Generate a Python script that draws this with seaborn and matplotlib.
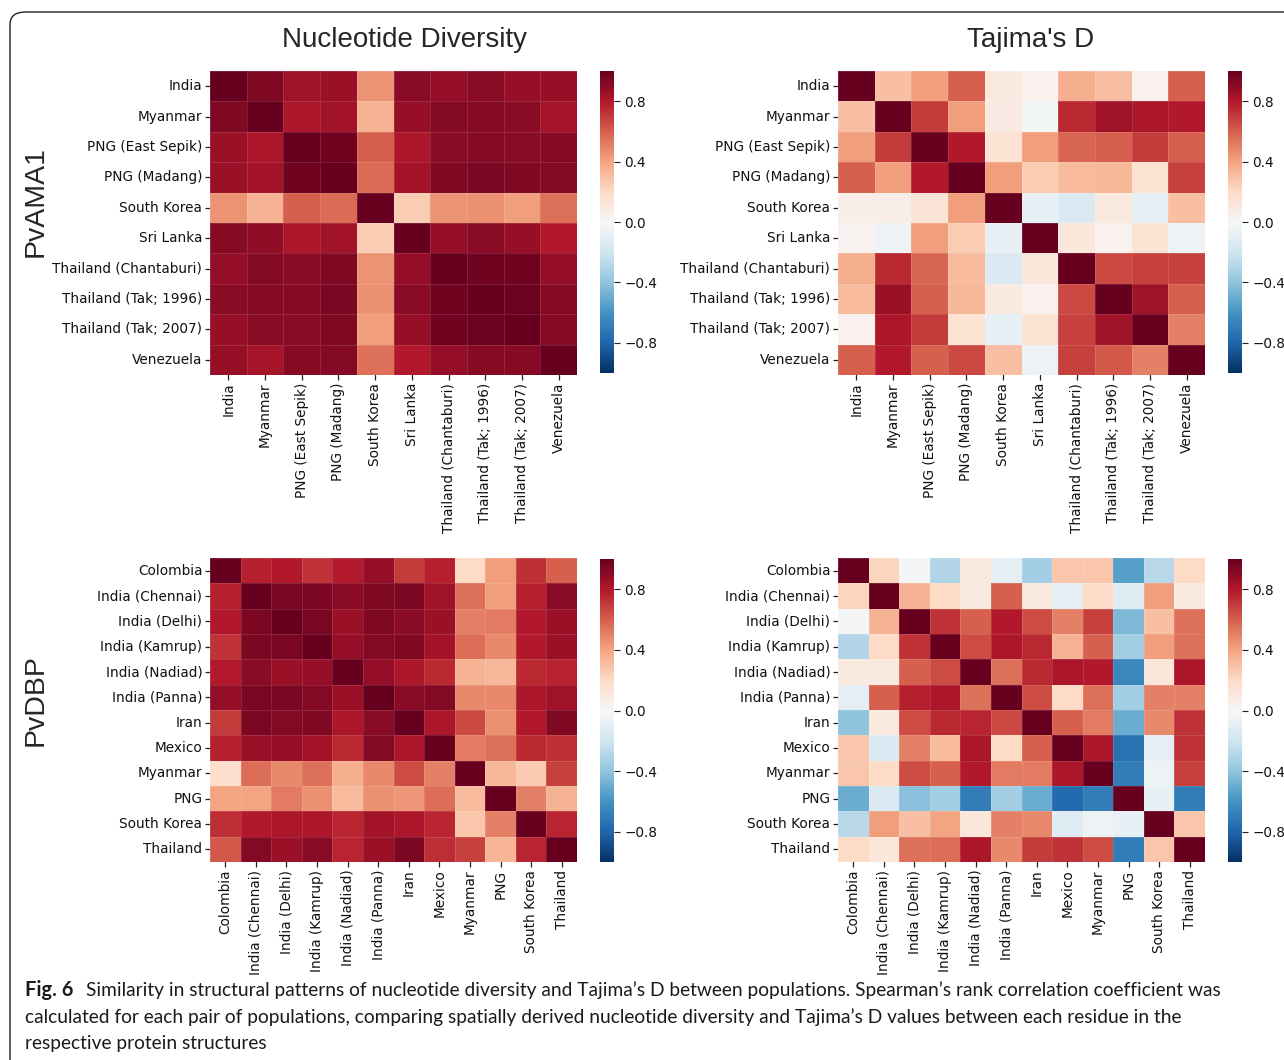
import numpy as np
import pandas as pd
import matplotlib.pyplot as plt
import seaborn as sns
from matplotlib.patches import FancyBboxPatch

# population labels
ama1_pops = ['India', 'Myanmar', 'PNG (East Sepik)', 'PNG (Madang)', 'South Korea',
             'Sri Lanka', 'Thailand (Chantaburi)', 'Thailand (Tak; 1996)',
             'Thailand (Tak; 2007)', 'Venezuela']
dbp_pops = ['Colombia', 'India (Chennai)', 'India (Delhi)', 'India (Kamrup)',
            'India (Nadiad)', 'India (Panna)', 'Iran', 'Mexico', 'Myanmar', 'PNG',
            'South Korea', 'Thailand']

# Spearman rho, PvAMA1, nucleotide diversity
ama1_nd = [
    [1.00, 0.93, 0.85, 0.86, 0.45, 0.90, 0.88, 0.90, 0.87, 0.87],
    [0.93, 1.00, 0.82, 0.84, 0.35, 0.87, 0.92, 0.91, 0.90, 0.83],
    [0.86, 0.82, 1.00, 0.97, 0.60, 0.82, 0.90, 0.91, 0.90, 0.91],
    [0.86, 0.84, 0.97, 1.00, 0.57, 0.84, 0.93, 0.94, 0.93, 0.92],
    [0.45, 0.35, 0.60, 0.57, 1.00, 0.25, 0.45, 0.46, 0.42, 0.55],
    [0.91, 0.89, 0.82, 0.84, 0.25, 1.00, 0.88, 0.90, 0.87, 0.80],
    [0.88, 0.92, 0.90, 0.93, 0.45, 0.88, 1.00, 0.97, 0.97, 0.88],
    [0.90, 0.91, 0.91, 0.94, 0.46, 0.90, 0.97, 1.00, 0.98, 0.91],
    [0.87, 0.90, 0.90, 0.93, 0.42, 0.87, 0.97, 0.98, 1.00, 0.91],
    [0.87, 0.83, 0.91, 0.92, 0.55, 0.80, 0.88, 0.91, 0.91, 1.00],
]

# PvAMA1, Tajima's D
ama1_td = [
    [1.00, 0.30, 0.42, 0.60, 0.10, 0.04, 0.36, 0.31, 0.04, 0.60],
    [0.30, 1.00, 0.70, 0.42, 0.08, -0.03, 0.75, 0.85, 0.82, 0.80],
    [0.42, 0.70, 1.00, 0.80, 0.15, 0.42, 0.58, 0.60, 0.70, 0.60],
    [0.60, 0.42, 0.80, 1.00, 0.42, 0.25, 0.32, 0.33, 0.15, 0.68],
    [0.07, 0.07, 0.14, 0.42, 1.00, -0.08, -0.15, 0.10, -0.08, 0.30],
    [0.03, -0.04, 0.42, 0.25, -0.08, 1.00, 0.12, 0.04, 0.15, -0.06],
    [0.36, 0.75, 0.58, 0.32, -0.15, 0.12, 1.00, 0.66, 0.68, 0.68],
    [0.32, 0.86, 0.60, 0.33, 0.10, 0.04, 0.66, 1.00, 0.85, 0.60],
    [0.04, 0.82, 0.70, 0.15, -0.08, 0.15, 0.68, 0.85, 1.00, 0.50],
    [0.60, 0.80, 0.60, 0.66, 0.30, -0.06, 0.68, 0.62, 0.50, 1.00],
]

# PvDBP, nucleotide diversity
dbp_nd = [
    [1.00, 0.78, 0.80, 0.72, 0.79, 0.88, 0.70, 0.78, 0.20, 0.42, 0.73, 0.60],
    [0.78, 1.00, 0.94, 0.94, 0.90, 0.93, 0.94, 0.85, 0.55, 0.42, 0.78, 0.90],
    [0.80, 0.94, 1.00, 0.95, 0.86, 0.93, 0.90, 0.86, 0.50, 0.52, 0.80, 0.86],
    [0.72, 0.94, 0.95, 1.00, 0.88, 0.92, 0.93, 0.84, 0.56, 0.48, 0.80, 0.86],
    [0.79, 0.90, 0.86, 0.88, 1.00, 0.88, 0.82, 0.75, 0.35, 0.33, 0.75, 0.77],
    [0.88, 0.94, 0.94, 0.92, 0.86, 1.00, 0.90, 0.92, 0.48, 0.48, 0.82, 0.85],
    [0.70, 0.94, 0.92, 0.93, 0.82, 0.90, 1.00, 0.82, 0.66, 0.46, 0.80, 0.93],
    [0.78, 0.86, 0.88, 0.84, 0.75, 0.92, 0.82, 1.00, 0.52, 0.55, 0.75, 0.73],
    [0.18, 0.56, 0.48, 0.55, 0.36, 0.48, 0.65, 0.50, 1.00, 0.33, 0.26, 0.68],
    [0.40, 0.40, 0.52, 0.46, 0.32, 0.46, 0.44, 0.56, 0.32, 1.00, 0.50, 0.35],
    [0.74, 0.80, 0.82, 0.82, 0.76, 0.84, 0.82, 0.76, 0.28, 0.50, 1.00, 0.76],
    [0.62, 0.92, 0.86, 0.90, 0.76, 0.86, 0.94, 0.74, 0.68, 0.34, 0.76, 1.00],
]

# PvDBP, Tajima's D
dbp_td = [
    [1.00, 0.22, -0.02, -0.30, 0.10, -0.10, -0.35, 0.28, 0.28, -0.55, -0.28, 0.20],
    [0.22, 1.00, 0.35, 0.20, 0.10, 0.60, 0.10, -0.10, 0.20, -0.12, 0.42, 0.10],
    [-0.02, 0.35, 1.00, 0.72, 0.60, 0.80, 0.65, 0.50, 0.68, -0.45, 0.30, 0.55],
    [-0.30, 0.20, 0.72, 1.00, 0.65, 0.82, 0.75, 0.35, 0.60, -0.35, 0.42, 0.55],
    [0.10, 0.10, 0.60, 0.65, 1.00, 0.55, 0.75, 0.82, 0.80, -0.65, 0.12, 0.82],
    [-0.10, 0.60, 0.78, 0.82, 0.55, 1.00, 0.65, 0.20, 0.55, -0.35, 0.50, 0.50],
    [-0.40, 0.10, 0.65, 0.75, 0.76, 0.66, 1.00, 0.60, 0.52, -0.50, 0.48, 0.72],
    [0.28, -0.15, 0.50, 0.32, 0.82, 0.20, 0.60, 1.00, 0.82, -0.75, -0.10, 0.72],
    [0.28, 0.20, 0.65, 0.60, 0.80, 0.52, 0.52, 0.82, 1.00, -0.70, -0.05, 0.68],
    [-0.50, -0.15, -0.42, -0.35, -0.70, -0.35, -0.50, -0.78, -0.70, 1.00, -0.08, -0.70],
    [-0.28, 0.42, 0.30, 0.40, 0.12, 0.50, 0.48, -0.12, -0.05, -0.08, 1.00, 0.28],
    [0.20, 0.12, 0.55, 0.56, 0.82, 0.48, 0.70, 0.72, 0.65, -0.70, 0.28, 1.00],
]

cbar_ticks = [-0.8, -0.4, 0.0, 0.4, 0.8]

sns.set_style("ticks")
plt.rcParams['font.family'] = ['DejaVu Sans']

W, H = 1284, 1060
fig = plt.figure(figsize=(W / 100, H / 100), dpi=100)


def px_axes(x0, y0, x1, y1):
    # pixel box (top-left origin) -> figure axes
    return fig.add_axes([x0 / W, 1 - y1 / H, (x1 - x0) / W, (y1 - y0) / H])


panels = [
    (ama1_nd, ama1_pops, (210, 71, 577, 375), (600, 71, 614, 373)),
    (ama1_td, ama1_pops, (838, 71, 1205, 375), (1228, 71, 1242, 373)),
    (dbp_nd, dbp_pops, (210, 558, 577, 862), (600, 559, 614, 862)),
    (dbp_td, dbp_pops, (838, 558, 1205, 862), (1228, 559, 1242, 862)),
]

for mat, pops, box, cbox in panels:
    ax = px_axes(*box)
    cax = px_axes(*cbox)
    df = pd.DataFrame(mat, index=pops, columns=pops)
    sns.heatmap(df, ax=ax, cbar_ax=cax, cmap='RdBu_r', vmin=-1, vmax=1,
                linewidths=0.4, linecolor=(1, 1, 1, 0.12),
                cbar_kws={'ticks': cbar_ticks})
    ax.set_xticklabels(pops, rotation=90, fontsize=9.8, color='#111111')
    ax.set_yticklabels(pops, rotation=0, fontsize=9.8, color='#111111')
    ax.tick_params(direction='inout', length=7, width=0.9, color='#222222', pad=2)
    cax.tick_params(labelsize=9.8, length=4, width=0.8, color='#222222',
                    labelcolor='#111111')

# column titles and row labels
fig.text(404 / W, 1 - 40 / H, 'Nucleotide Diversity', fontsize=20,
         family='Liberation Sans', ha='center', va='center')
fig.text(1031 / W, 1 - 40 / H, "Tajima's D", fontsize=20,
         family='Liberation Sans', ha='center', va='center')
fig.text(36 / W, 1 - 202 / H, 'PvAMA1', fontsize=20.5, rotation=90,
         family='Liberation Sans', ha='center', va='center')
fig.text(36 / W, 1 - 700 / H, 'PvDBP', fontsize=20.5, rotation=90,
         family='Liberation Sans', ha='center', va='center')

# rounded frame around the figure panel
frame = FancyBboxPatch((10 / W, -0.05), 1.2, 1 - 12 / H + 0.05,
                       boxstyle='round,pad=0,rounding_size=0.012',
                       transform=fig.transFigure, fill=False,
                       edgecolor='#222222', linewidth=1.0, clip_on=False)
fig.patches.append(frame)

# caption
cap_font = 'Lato'
cap_size = 13.8
fig.text(25 / W, 1 - 990 / H, 'Fig. 6', fontsize=cap_size + 0.6, fontweight='bold',
         family=cap_font, ha='left', va='center', color='#1a1a1a')
fig.text(86 / W, 1 - 990 / H,
         "Similarity in structural patterns of nucleotide diversity and Tajima\u2019s D "
         "between populations. Spearman\u2019s rank correlation coefficient was",
         fontsize=cap_size, family=cap_font, ha='left', va='center', color='#1a1a1a')
fig.text(25 / W, 1 - 1017 / H,
         "calculated for each pair of populations, comparing spatially derived nucleotide "
         "diversity and Tajima\u2019s D values between each residue in the",
         fontsize=cap_size, family=cap_font, ha='left', va='center', color='#1a1a1a')
fig.text(25 / W, 1 - 1044 / H, 'respective protein structures',
         fontsize=cap_size, family=cap_font, ha='left', va='center', color='#1a1a1a')

fig.savefig('out.png', dpi=100)
